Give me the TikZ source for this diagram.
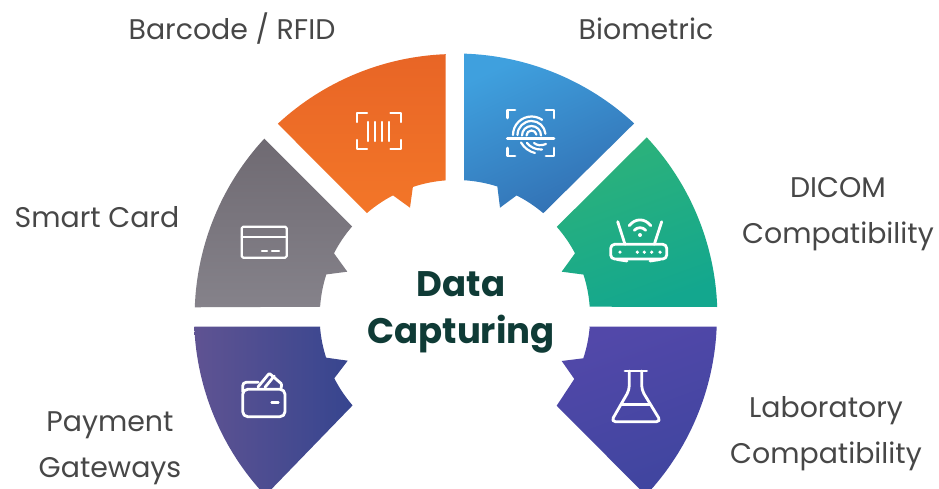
\documentclass[tikz,border=0pt]{standalone}
\usepackage{fontspec}
\setmainfont{Poppins}
\definecolor{labelc}{HTML}{474747}
\definecolor{titlec}{HTML}{0F3B36}
\definecolor{orA}{HTML}{E86526}\definecolor{orB}{HTML}{F37628}
\definecolor{blA}{HTML}{3FA0DE}\definecolor{blB}{HTML}{326FB2}
\definecolor{grA}{HTML}{6F6A72}\definecolor{grB}{HTML}{85828A}
\definecolor{gnA}{HTML}{2DB27A}\definecolor{gnB}{HTML}{13A78E}
\definecolor{waA}{HTML}{5F5392}\definecolor{waB}{HTML}{36458F}
\definecolor{flA}{HTML}{5248A9}\definecolor{flB}{HTML}{3F459F}
\tikzset{
  x=1pt,y=1pt,
  lab/.style={text=labelc,font=\fontsize{28.4}{46}\selectfont,align=center,inner sep=0pt},
  ttl/.style={text=titlec,font=\bfseries\fontsize{35.5}{47}\selectfont,align=center,inner sep=0pt},
  ic/.style={draw=white,line width=2.8pt,line cap=round,line join=round},
  icthin/.style={ic,line width=2.2pt}
}
\begin{document}
\begin{tikzpicture}
\useasboundingbox (-455.8,-173) rectangle (483.2,316);
\clip (-455.8,-173) rectangle (483.2,316);
\fill[white] (-455.8,-173) rectangle (483.2,316);
% orange
\shade[top color=orA,bottom color=orB]
 (92.2:262) arc[start angle=92.2,end angle=132.8,radius=262] -- (130.8:136) arc[start angle=130.8,end angle=117.5,radius=136] -- (-45.8,108.3) -- (108.4:136) arc[start angle=108.4,end angle=94.3,radius=136] -- cycle;
% blue
\shade[top color=blA,bottom color=blB,shading angle=25]
 (88.2:262.5) arc[start angle=88.2,end angle=47.2,radius=262.5] -- (49.6:135) arc[start angle=49.6,end angle=63.2,radius=135.5] -- (44.2,108.3) -- (72.2:136) arc[start angle=72.2,end angle=86.5,radius=136] -- cycle;
% grey
\shade[top color=grA,bottom color=grB,shading angle=0]
 (137.2:261) arc[start angle=137.2,end angle=178,radius=261.6] -- (176.1:136) arc[start angle=176.1,end angle=162.2,radius=136] -- (-108.5,44.3) -- (-121.8,62.7) arc[start angle=152.8,end angle=139.2,radius=137] -- cycle;
% green
\shade[top color=gnA,bottom color=gnB,shading angle=20]
 (43.1:261.5) arc[start angle=43.1,end angle=2,radius=261.7] -- (133.9,9.3) arc[start angle=4,end angle=18,radius=134.3] -- (105.9,44.3) -- (119.2,62.7) arc[start angle=27.7,end angle=41.4,radius=134.5] -- cycle;
% wallet segment
\shade[left color=waA,right color=waB]
 (-261.5,-10.7) -- (-135.8,-10.7) arc[start angle=184.5,end angle=197.8,radius=136.2] -- (-108.1,-44.7) -- (-121.5,-62.3) arc[start angle=207.1,end angle=220.9,radius=136] -- (-190.5,-179.5) arc[start angle=223.3,end angle=182.3,radius=261.7] -- cycle;
% flask segment
\shade[top color=flA,bottom color=flB,shading angle=20]
 (133.2,-10.7) -- (260.9,-10.7) arc[start angle=-2.3,end angle=-43.3,radius=261.1] -- (100.9,-89.7) -- (118.5,-63) -- (105.9,-45) -- (127.5,-42.3) arc[start angle=-18.4,end angle=-4.6,radius=134] -- cycle;
% icons in image pixels
\begin{scope}[shift={(-455.8,316)},y=-1pt]
 % barcode
 \draw[icthin] (367,113)--(356.7,113)--(356.7,122) (390.5,113)--(400.7,113)--(400.7,122) (356.7,140)--(356.7,149)--(367,149) (400.7,140)--(400.7,149)--(390.5,149);
 \draw[icthin] (368.3,122)--(368.3,141) (375,122)--(375,141) (382,122)--(382,141) (389.3,122)--(389.3,141);
 % card
 \draw[icthin,rounded corners=1.5pt] (241.7,226.7) rectangle (286.7,257.7);
 \draw[icthin] (241.7,236.7)--(286.7,236.7) (262,250.7)--(267,250.7) (272,250.7)--(279,250.7);
 % fingerprint
 \draw[ic] (515,110)--(507.3,110)--(507.3,118) (546,110)--(554,110)--(554,118) (507.3,148)--(507.3,156)--(515,156) (554,148)--(554,156)--(546,156);
 \draw[ic] (507.3,138.7)--(554,138.7);
 \draw[icthin] (513,135) arc[start angle=180,end angle=305,radius=18.5];
 \draw[icthin] (517.5,135) arc[start angle=180,end angle=355,radius=14];
 \draw[icthin] (522,135.5) arc[start angle=180,end angle=360,radius=9.5];
 \draw[icthin] (526.5,135.5) arc[start angle=180,end angle=350,radius=5];
 \draw[icthin] (521,142.5) .. controls (524,148) and (530,152) .. (535,153);
 \draw[icthin] (527,143) .. controls (530,147) and (536,150) .. (542,149.5);
 \draw[icthin] (534,143) .. controls (537,145.5) and (541,146) .. (546,144);
 % router
 \draw[ic,rounded corners=4pt] (610.7,244.3) rectangle (666.7,259);
 \draw[ic] (617.7,221.7)--(625,244.3) (661.7,221.7)--(654.3,244.3);
 \draw[ic] (617,259.5)--(627,261) (650,261)--(660,259.5);
 \draw[ic] (629.2,225.6) .. controls (635.5,218) and (644.5,218) .. (650.8,225.6);
 \draw[ic] (634.3,230.3) .. controls (637.5,226.8) and (642.5,226.8) .. (645.7,230.3);
 \fill[white] (640,235) circle[radius=2] (620,252.2) circle[radius=1.8] (637.3,252.2) circle[radius=1.8] (644.3,252.2) circle[radius=1.8] (651.7,252.2) circle[radius=1.8] (660,252.2) circle[radius=1.8];
 % wallet
 \draw[ic,rounded corners=5pt] (285,389.3) -- (242.7,389.3) -- (242.7,416.7) -- (285,416.7) -- cycle;
 \draw[ic,rounded corners=3.5pt] (242.7,392) -- (242.7,382.3) -- (258.3,382.3);
 \draw[ic,rounded corners=1pt] (258,387) -- (269.3,373.3) -- (281.7,384) -- (281,389);
 \draw[ic] (265,387.3) -- (274.3,376);
 \draw[ic] (271.7,402.3) -- (278.3,402.3);
 % flask
 \draw[ic] (625,371) -- (646.7,371);
 \draw[ic,rounded corners=4.5pt] (629.3,371) -- (629.3,390) -- (611,421.7) -- (661,421.7) -- (641.7,390) -- (641.7,371);
 \draw[ic] (621.7,404.3) -- (650,404.3);
\end{scope}
% text
\begin{scope}[shift={(-455.8,316)},y=-1pt]
 \node[lab] (barcode) at (232,29) {Barcode / RFID};
 \node[lab] (bio) at (646,29) {Biometric};
 \node[lab] (smart) at (97,217) {Smart Card};
 \node[lab] (dicom) at (838,214) {DICOM\\Compatibility};
 \node[lab] (pay) at (110,448) {Payment\\Gateways};
 \node[lab] (lab) at (826,434) {Laboratory\\Compatibility};
 \node[ttl] (title) at (461,312) {Data\\Capturing};
\end{scope}
\end{tikzpicture}
\end{document}
